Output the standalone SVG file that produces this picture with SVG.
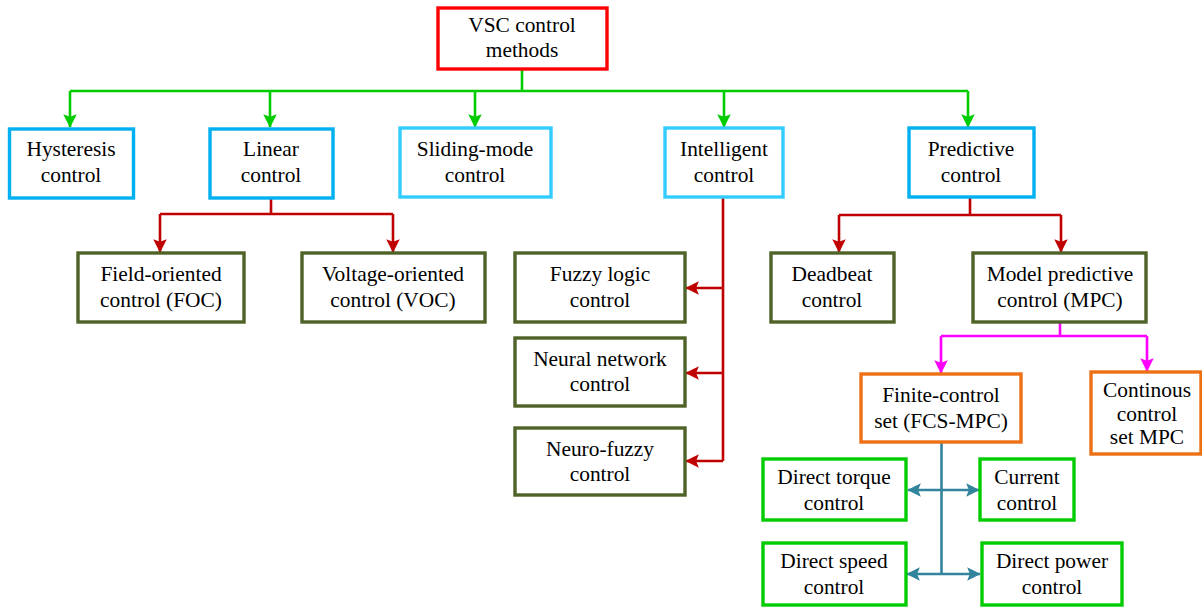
<svg xmlns="http://www.w3.org/2000/svg" width="1202" height="607" viewBox="0 0 1202 607">
<defs>
<style>
text{font-family:"Liberation Serif","Times New Roman",serif;font-size:21.4px;fill:#000;text-anchor:middle}
rect{fill:#fff;stroke-width:3.4}
.red{stroke:#ff0000}
.blue{stroke:#00b0f0}
.lblue{stroke:#33ccff}
.olive{stroke:#4f6228}
.orange{stroke:#ec7014}
.green{stroke:#00cc00}
.cg{stroke:#00cc00;fill:none;stroke-width:2.6}
.cr{stroke:#c00000;fill:none;stroke-width:2.6}
.cm{stroke:#ff00ff;fill:none;stroke-width:2.6}
.ct{stroke:#31849b;fill:none;stroke-width:2.6}
</style>
<marker id="ag" viewBox="0 0 10 10" refX="9.5" refY="5" markerWidth="5.2" markerHeight="5.2" orient="auto" markerUnits="strokeWidth"><path d="M0,0 L10,5 L0,10 L2,5 z" fill="#00cc00"/></marker>
<marker id="ar" viewBox="0 0 10 10" refX="9.5" refY="5" markerWidth="5.2" markerHeight="5.2" orient="auto" markerUnits="strokeWidth"><path d="M0,0 L10,5 L0,10 L2,5 z" fill="#c00000"/></marker>
<marker id="am" viewBox="0 0 10 10" refX="9.5" refY="5" markerWidth="5.2" markerHeight="5.2" orient="auto" markerUnits="strokeWidth"><path d="M0,0 L10,5 L0,10 L2,5 z" fill="#ff00ff"/></marker>
<marker id="at" viewBox="0 0 10 10" refX="9.5" refY="5" markerWidth="5.2" markerHeight="5.2" orient="auto-start-reverse" markerUnits="strokeWidth"><path d="M0,0 L10,5 L0,10 L2,5 z" fill="#31849b"/></marker>
</defs>
<rect width="1202" height="607" fill="#fff" stroke="none"/>
<g id="connectors">
<path class="cg" d="M522,69 V91 M70,91 H968"/>
<path class="cg" d="M70,91 V127" marker-end="url(#ag)"/>
<path class="cg" d="M270,91 V127" marker-end="url(#ag)"/>
<path class="cg" d="M475,91 V127" marker-end="url(#ag)"/>
<path class="cg" d="M724,91 V127" marker-end="url(#ag)"/>
<path class="cg" d="M968,91 V127" marker-end="url(#ag)"/>
<path class="cr" d="M271,198 V214 M160,214 H393"/>
<path class="cr" d="M160,214 V252" marker-end="url(#ar)"/>
<path class="cr" d="M393,214 V252" marker-end="url(#ar)"/>
<path class="cr" d="M723,197 V461"/>
<path class="cr" d="M723,288 H686" marker-end="url(#ar)"/>
<path class="cr" d="M723,373 H686" marker-end="url(#ar)"/>
<path class="cr" d="M723,461 H686" marker-end="url(#ar)"/>
<path class="cr" d="M970,197 V215 M839,215 H1061"/>
<path class="cr" d="M839,215 V252" marker-end="url(#ar)"/>
<path class="cr" d="M1061,215 V252" marker-end="url(#ar)"/>
<path class="cm" d="M1060,322 V336 M941,336 H1147"/>
<path class="cm" d="M941,336 V373" marker-end="url(#am)"/>
<path class="cm" d="M1147,336 V371" marker-end="url(#am)"/>
<path class="ct" d="M941.5,443 V574"/>
<path class="ct" d="M908,490 H979" marker-start="url(#at)" marker-end="url(#at)"/>
<path class="ct" d="M907,574 H980" marker-start="url(#at)" marker-end="url(#at)"/>
</g>
<g id="vsc"><rect class="red" x="438" y="8" width="169" height="61"/><text x="522" y="32">VSC control</text><text x="522" y="57">methods</text></g>
<g id="hysteresis"><rect class="blue" x="9.5" y="129" width="124" height="69"/><text x="71" y="156">Hysteresis</text><text x="71" y="182">control</text></g>
<g id="linear"><rect class="blue" x="210" y="129" width="123" height="69"/><text x="271" y="156">Linear</text><text x="271" y="182">control</text></g>
<g id="sliding"><rect class="lblue" x="400" y="128" width="151" height="69"/><text x="475" y="156">Sliding-mode</text><text x="475" y="182">control</text></g>
<g id="intelligent"><rect class="lblue" x="665" y="128" width="118" height="69"/><text x="724" y="156">Intelligent</text><text x="724" y="182">control</text></g>
<g id="predictive"><rect class="blue" x="909" y="128" width="125" height="69"/><text x="971" y="156">Predictive</text><text x="971" y="182">control</text></g>
<g id="foc"><rect class="olive" x="78" y="253" width="166" height="69"/><text x="161" y="281">Field-oriented</text><text x="161" y="307">control (FOC)</text></g>
<g id="voc"><rect class="olive" x="302" y="253" width="183" height="69"/><text x="393" y="281">Voltage-oriented</text><text x="393" y="307">control (VOC)</text></g>
<g id="fuzzy"><rect class="olive" x="515" y="253" width="170" height="69"/><text x="600" y="281">Fuzzy logic</text><text x="600" y="307">control</text></g>
<g id="neural"><rect class="olive" x="515" y="338" width="170" height="68"/><text x="600" y="366">Neural network</text><text x="600" y="391">control</text></g>
<g id="neurofuzzy"><rect class="olive" x="515" y="428" width="170" height="67"/><text x="600" y="456">Neuro-fuzzy</text><text x="600" y="481">control</text></g>
<g id="deadbeat"><rect class="olive" x="771" y="253" width="123" height="69"/><text x="832" y="281">Deadbeat</text><text x="832" y="307">control</text></g>
<g id="mpc"><rect class="olive" x="973" y="253" width="173" height="69"/><text x="1060" y="281">Model predictive</text><text x="1060" y="307">control (MPC)</text></g>
<g id="fcs"><rect class="orange" x="861" y="374" width="160" height="68"/><text x="941" y="402">Finite-control</text><text x="941" y="428">set (FCS-MPC)</text></g>
<g id="ccs"><rect class="orange" x="1091" y="372" width="110" height="82"/><text x="1147" y="397">Continous</text><text x="1147" y="421">control</text><text x="1147" y="444">set MPC</text></g>
<g id="dtc"><rect class="green" x="763" y="459" width="143" height="61"/><text x="834" y="484">Direct torque</text><text x="834" y="510">control</text></g>
<g id="current"><rect class="green" x="980" y="459" width="94" height="61"/><text x="1027" y="484">Current</text><text x="1027" y="510">control</text></g>
<g id="dsc"><rect class="green" x="763" y="543" width="143" height="62"/><text x="834" y="568">Direct speed</text><text x="834" y="594">control</text></g>
<g id="dpc"><rect class="green" x="982" y="543" width="140" height="62"/><text x="1052" y="568">Direct power</text><text x="1052" y="594">control</text></g>
</svg>
